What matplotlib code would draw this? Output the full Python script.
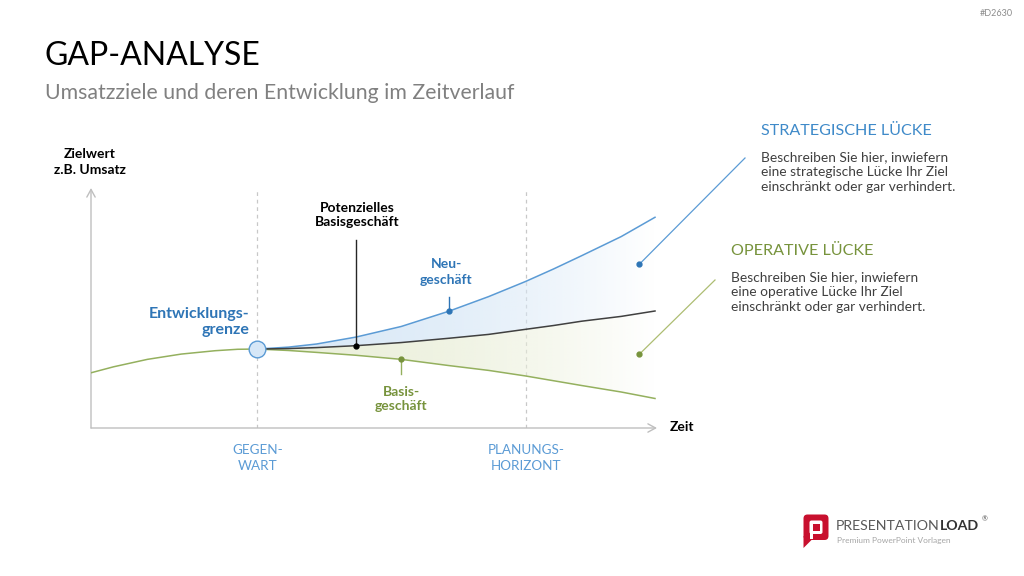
import numpy as np
import matplotlib
matplotlib.use("Agg")
import matplotlib.pyplot as plt
from matplotlib.lines import Line2D
from matplotlib.patches import FancyBboxPatch, Polygon, Rectangle
from matplotlib.colors import to_rgb

plt.rcParams['font.family'] = ['Lato', 'DejaVu Sans']

# ---------------- data ----------------
# time axis in arbitrary units (0 = start, 100 = end of view)
X_PAST = [0, 4, 10, 16, 22, 26, 29.5]
BASIS_PAST = [23.0, 25.5, 28.6, 30.8, 32.2, 32.8, 32.9]

X_FUT = [29.5, 35, 40, 47, 55, 63.5, 70.5, 77, 82, 87, 94, 100]
NEU = [32.9, 33.7, 35.0, 37.9, 42.3, 48.7, 54.75, 61.0, 66.25, 71.8, 79.75, 87.8]      # Neugeschäft
POT_BASIS = [32.9, 33.1, 33.5, 34.3, 35.6, 37.4, 39.0, 41.1, 42.7, 44.5, 46.5, 48.75]  # Potenzielles Basisgeschäft
BASIS = [32.9, 32.3, 31.5, 30.3, 28.6, 26.0, 24.0, 21.7, 19.7, 17.7, 15.0, 12.3]       # Basisgeschäft

GEGENWART = 29.5
PLANUNGSHORIZONT = 77.1
TIME_LABELS = ["GEGEN-\nWART", "PLANUNGS-\nHORIZONT"]

IDX_POT = 3   # marked point on Potenzielles Basisgeschäft
IDX_NEU = 5   # marked point on Neugeschäft
IDX_BAS = 4   # marked point on Basisgeschäft

# ---------------- styles ----------------
W, H = 1024, 576
C_BLUE_LINE = '#5b9bd5'
C_BLUE_TXT = '#2e75b6'
C_BLUE_HEAD = '#3f8ac9'
C_GREEN_LINE = '#94b05e'
C_GREEN_TXT = '#77933c'
C_BLACK = '#404040'
C_AXIS = '#bfbfbf'
C_GRID = '#c8c8c8'
C_BODY = '#404040'

fig = plt.figure(figsize=(W / 100, H / 100), dpi=100)
fig.patch.set_facecolor('white')


def fx(px):
    return px / W


def fy(py):
    return 1 - py / H


def T(px, py, s, **kw):
    kw.setdefault('va', 'center')
    kw.setdefault('ha', 'left')
    return fig.text(fx(px), fy(py), s, **kw)


# ---------------- chart axes ----------------
L, R, B, TOP = 91, 657, 428, 188
ax = fig.add_axes([fx(L), fy(B), (R - L) / W, (B - TOP) / H])
ax.set_xlim(0, (R - L) / 5.64)
ax.set_ylim(0, 100)
ax.axis('off')

# axes with arrows
ax.annotate('', xy=(1, 0), xytext=(0, 0), xycoords='axes fraction', textcoords='axes fraction',
            arrowprops=dict(arrowstyle='->,head_length=0.55,head_width=0.3', color=C_AXIS, lw=1,
                            shrinkA=0, shrinkB=0))
ax.annotate('', xy=(0, 1), xytext=(0, 0), xycoords='axes fraction', textcoords='axes fraction',
            arrowprops=dict(arrowstyle='->,head_length=0.55,head_width=0.3', color=C_AXIS, lw=1,
                            shrinkA=0, shrinkB=0))

for xv in (GEGENWART, PLANUNGSHORIZONT):
    ax.axvline(xv, color=C_GRID, lw=0.9, ls=(0, (3, 3)), zorder=0)


def gradient_fill(lower, upper, color):
    poly = ax.fill_between(X_FUT, lower, upper, facecolor='none', edgecolor='none')
    path = poly.get_paths()[0]
    xs = np.linspace(X_FUT[0], X_FUT[-1], 400)
    alpha = 1 - ((xs - X_FUT[0]) / (X_FUT[-1] - X_FUT[0])) ** 2
    rgba = np.zeros((1, len(xs), 4))
    rgba[..., :3] = to_rgb(color)
    rgba[..., 3] = np.clip(alpha, 0, 1)
    im = ax.imshow(rgba, extent=[X_FUT[0], X_FUT[-1], 0, 100], aspect='auto',
                   origin='lower', zorder=1, interpolation='bilinear')
    im.set_clip_path(path, transform=ax.transData)


gradient_fill(POT_BASIS, NEU, '#dae9f7')
gradient_fill(BASIS, POT_BASIS, '#ebf0db')

ax.plot(X_PAST, BASIS_PAST, color=C_GREEN_LINE, lw=1.1, zorder=3)
ax.plot(X_FUT, BASIS, color=C_GREEN_LINE, lw=1.1, zorder=3)
ax.plot(X_FUT, NEU, color=C_BLUE_LINE, lw=1.1, zorder=3)
ax.plot(X_FUT, POT_BASIS, color=C_BLACK, lw=1.1, zorder=4)

# development limit circle
ax.plot([X_FUT[0]], [POT_BASIS[0]], 'o', ms=12, mfc='#d6e7f7', mec=C_BLUE_LINE, mew=1, zorder=6)

# marked points with leader lines
ax.plot([X_FUT[IDX_POT]] * 2, [POT_BASIS[IDX_POT], (B - 240) / 2.4], color='#262626', lw=1, zorder=5)
ax.plot([X_FUT[IDX_POT]], [POT_BASIS[IDX_POT]], 'o', ms=3.5, color='#000000', zorder=6)
ax.plot([X_FUT[IDX_NEU]] * 2, [NEU[IDX_NEU], (B - 297) / 2.4], color=C_BLUE_TXT, lw=1, zorder=5)
ax.plot([X_FUT[IDX_NEU]], [NEU[IDX_NEU]], 'o', ms=3.5, color=C_BLUE_TXT, zorder=6)
ax.plot([X_FUT[IDX_BAS]] * 2, [BASIS[IDX_BAS], (B - 374) / 2.4], color=C_GREEN_LINE, lw=1, zorder=5)
ax.plot([X_FUT[IDX_BAS]], [BASIS[IDX_BAS]], 'o', ms=3.5, color=C_GREEN_TXT, zorder=6)

# ---------------- callouts to the right ----------------
fig.add_artist(Line2D([fx(639.3), fx(745)], [fy(264.3), fy(158)], color=C_BLUE_LINE, lw=0.9))
fig.add_artist(Line2D([fx(639.3)], [fy(264.3)], marker='o', ms=3.5, color=C_BLUE_TXT))
fig.add_artist(Line2D([fx(639.3), fx(715)], [fy(354.3), fy(280)], color='#adbd72', lw=0.9))
fig.add_artist(Line2D([fx(639.3)], [fy(354.3)], marker='o', ms=3.5, color=C_GREEN_TXT))

# ---------------- texts ----------------
T(1013, 14, '#D2630', ha='right', fontsize=6.5, color='#8c8c8c')
T(45, 56, 'GAP-ANALYSE', fontsize=23, color='#000000')
T(45, 93, 'Umsatzziele und deren Entwicklung im Zeitverlauf', fontsize=15.3, color='#808080')

T(90, 162, 'Zielwert\nz.B. Umsatz', ha='center', fontsize=10, fontweight='bold', color='#000000',
  linespacing=1.35)
T(670, 427, 'Zeit', fontsize=10, fontweight='bold', color='#000000')
T(249, 322, 'Entwicklungs-\ngrenze', ha='right', fontsize=11.5, fontweight='bold', color=C_BLUE_TXT,
  linespacing=1.25, multialignment='right')
T(357, 215, 'Potenzielles\nBasisgeschäft', ha='center', fontsize=10, fontweight='bold', color='#000000',
  linespacing=1.3)
T(446, 272, 'Neu-\ngeschäft', ha='center', fontsize=10, fontweight='bold', color=C_BLUE_TXT, linespacing=1.3)
T(401, 399, 'Basis-\ngeschäft', ha='center', fontsize=10, fontweight='bold', color=C_GREEN_TXT, linespacing=1.3)

for xv, lab in zip((GEGENWART, PLANUNGSHORIZONT), TIME_LABELS):
    px = L + xv * 5.64
    T(px, 458, lab, ha='center', fontsize=9.7, color=C_BLUE_LINE, linespacing=1.3)

T(761, 131, 'STRATEGISCHE LÜCKE', fontsize=11.6, color=C_BLUE_HEAD)
T(761, 172, 'Beschreiben Sie hier, inwiefern\neine strategische Lücke Ihr Ziel\neinschränkt oder gar verhindert.',
  fontsize=9.9, color=C_BODY, linespacing=1.28)
T(731, 251, 'OPERATIVE LÜCKE', fontsize=11.6, color=C_GREEN_TXT)
T(731, 292, 'Beschreiben Sie hier, inwiefern\neine operative Lücke Ihr Ziel\neinschränkt oder gar verhindert.',
  fontsize=9.9, color=C_BODY, linespacing=1.28)

# ---------------- logo ----------------
lax = fig.add_axes([fx(803), fy(548), 26 / W, 34 / H])
lax.set_xlim(0, 26)
lax.set_ylim(0, 34)
lax.axis('off')
lax.add_patch(FancyBboxPatch((0.5, 8), 25, 25.5, boxstyle='round,pad=0,rounding_size=4',
                             fc='#c8102e', ec='none'))
lax.add_patch(Polygon([[0.5, 12], [0.5, 0], [9, 8.5]], closed=True, fc='#c8102e', ec='none'))
lax.add_patch(FancyBboxPatch((6.5, 14), 13, 13.5, boxstyle='round,pad=0,rounding_size=2',
                             fc='white', ec='none'))
lax.add_patch(Rectangle((9.5, 17.5), 7, 7, fc='#c8102e', ec='none'))
lax.add_patch(Rectangle((6.5, 9), 3, 6, fc='white', ec='none'))

t1 = T(836, 526, 'PRESENTATION', fontsize=10.2, color='#595959')
fig.canvas.draw()
bb = t1.get_window_extent()
t2 = T(bb.x1 + 0.5, 526, 'LOAD', fontsize=10.2, fontweight='bold', color='#333333')
fig.canvas.draw()
bb2 = t2.get_window_extent()
T(bb2.x1 + 2, 519, '®', fontsize=5, color='#595959')
T(837, 541, 'Premium PowerPoint Vorlagen', fontsize=6, color='#a6a6a6')

fig.savefig('out.png', dpi=100)
